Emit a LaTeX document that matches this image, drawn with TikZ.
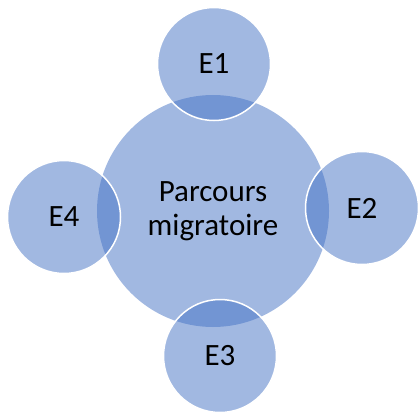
\documentclass[tikz,border=0pt]{standalone}
\usepackage{fontspec}
\setmainfont{Carlito}
\usepackage{tikz}
\definecolor{bleu}{RGB}{68,114,196}

\begin{document}
\begin{tikzpicture}[x=1pt, y=-1pt]
  \tikzstyle{centre}=[circle, fill=bleu, fill opacity=0.5, text opacity=1, minimum size=232pt, inner sep=0pt, align=center, font=\fontsize{31}{34}\selectfont]
  \tikzstyle{etape}=[circle, fill=bleu, fill opacity=0.5, text opacity=1, draw=white, draw opacity=1, line width=1.5pt, minimum size=113pt, inner sep=0pt, font=\fontsize{31}{34}\selectfont]
  \useasboundingbox (0,0) rectangle (419,414);
  \node[centre] (parcours) at (213,211) {Parcours\\migratoire};
  \node[etape] (e1) at (214,64) {E1};
  \node[etape] (e2) at (362,208) {E2};
  \node[etape] (e3) at (220,356) {E3};
  \node[etape] (e4) at (64,217) {E4};
\end{tikzpicture}
\end{document}
